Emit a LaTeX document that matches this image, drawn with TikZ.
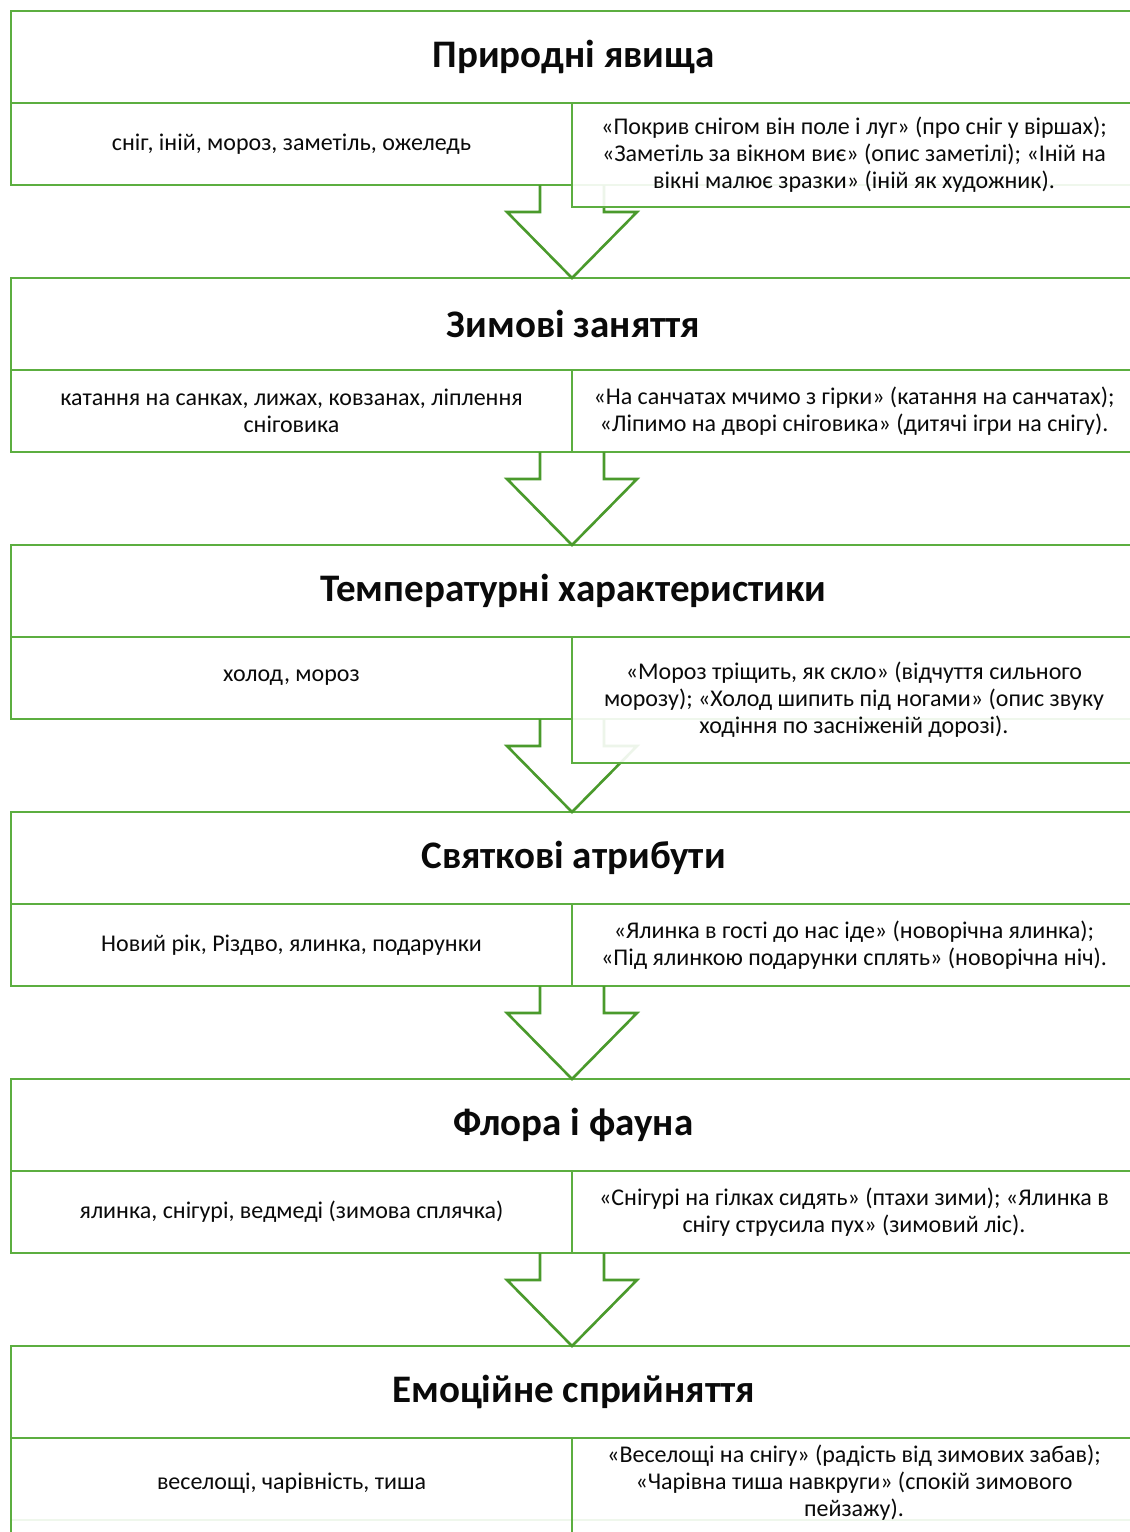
\documentclass[tikz,border=0pt]{standalone}
\usepackage{fontspec}
\setmainfont{Carlito}
\usetikzlibrary{positioning}

\definecolor{boxgreen}{RGB}{92,174,64}
\definecolor{arrowgreen}{RGB}{74,154,44}
\definecolor{inktext}{RGB}{10,10,10}

\newcommand{\downarrowblock}[2]{%
  \draw[arrowline] ([xshift=-32pt]#1.south east) -- ++(0,-27) -- ++(-33,0)
    -- (#1.south east |- #2.north) -- ++(65,66) -- ++(-33,0)
    -- ([xshift=32pt]#1.south east);}

\begin{document}
\begin{tikzpicture}[x=1pt, y=1pt, thick]
\tikzstyle{titlebox} = [rectangle, draw=boxgreen, line width=2.6pt, outer sep=0pt, anchor=north west, minimum width=1125pt, minimum height=92pt, text=inktext, font=\fontsize{39}{46}\selectfont\bfseries]
\tikzstyle{cell} = [rectangle, draw=boxgreen, line width=2.6pt, outer sep=0pt, anchor=north west, minimum height=82pt, align=center, text=inktext, font=\fontsize{24}{27}\selectfont]
\tikzstyle{leftcell} = [cell, minimum width=561pt]
\tikzstyle{rightcell} = [cell, minimum width=564pt]
\tikzstyle{spill} = [fill=white, fill opacity=0.9, text opacity=1]
\tikzstyle{arrowline} = [draw=arrowgreen, line width=2.6pt, line join=miter]

\useasboundingbox (0,0) rectangle (1130,-1532);
\fill[white] (0,0) rectangle (1130,-1532);
\clip (0,0) rectangle (1130,-1532);

\node[titlebox] (t1) at (11,-11) {Природні явища};
\node[leftcell] (l1) at (t1.south west) {сніг, іній, мороз, заметіль, ожеледь};
\node[rightcell] (r1base) at (l1.north east) {};

\node[titlebox, below=93pt of l1.south west, anchor=north west] (t2) {Зимові заняття};
\node[leftcell] (l2) at (t2.south west) {катання на санках, лижах, ковзанах, ліплення\\сніговика};
\node[rightcell] (r2) at (l2.north east) {«На санчатах мчимо з гірки» (катання на санчатах);\\«Ліпимо на дворі сніговика» (дитячі ігри на снігу).};

\node[titlebox, below=93pt of l2.south west, anchor=north west] (t3) {Температурні характеристики};
\node[leftcell] (l3) at (t3.south west) {холод, мороз};
\node[rightcell] (r3base) at (l3.north east) {};

\node[titlebox, below=93pt of l3.south west, anchor=north west] (t4) {Святкові атрибути};
\node[leftcell] (l4) at (t4.south west) {Новий рік, Різдво, ялинка, подарунки};
\node[rightcell] (r4) at (l4.north east) {«Ялинка в гості до нас іде» (новорічна ялинка);\\«Під ялинкою подарунки сплять» (новорічна ніч).};

\node[titlebox, below=93pt of l4.south west, anchor=north west] (t5) {Флора і фауна};
\node[leftcell] (l5) at (t5.south west) {ялинка, снігурі, ведмеді (зимова сплячка)};
\node[rightcell] (r5) at (l5.north east) {«Снігурі на гілках сидять» (птахи зими); «Ялинка в\\снігу струсила пух» (зимовий ліс).};

\node[titlebox, below=93pt of l5.south west, anchor=north west] (t6) {Емоційне сприйняття};
\node[leftcell] (l6base) at (t6.south west) {};
\node[rightcell] (r6base) at (l6base.north east) {};

\downarrowblock{l1}{t2}
\downarrowblock{l2}{t3}
\downarrowblock{l3}{t4}
\downarrowblock{l4}{t5}
\downarrowblock{l5}{t6}

\node[rightcell, spill, minimum height=104pt] (r1) at (l1.north east) {«Покрив снігом він поле і луг» (про сніг у віршах);\\«Заметіль за вікном виє» (опис заметілі); «Іній на\\вікні малює зразки» (іній як художник).};
\node[rightcell, spill, minimum height=126pt] (r3) at (l3.north east) {«Мороз тріщить, як скло» (відчуття сильного\\морозу); «Холод шипить під ногами» (опис звуку\\ходіння по засніженій дорозі).};
\node[leftcell, spill, minimum height=110pt, text depth=24pt] (l6) at (t6.south west) {веселощі, чарівність, тиша};
\node[rightcell, spill, minimum height=110pt, text depth=24pt] (r6) at (l6.north east) {«Веселощі на снігу» (радість від зимових забав);\\«Чарівна тиша навкруги» (спокій зимового\\пейзажу).};

\end{tikzpicture}
\end{document}
